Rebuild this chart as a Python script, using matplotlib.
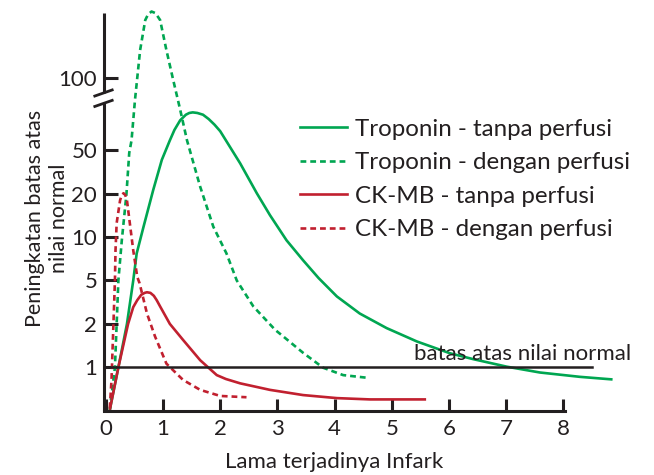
import numpy as np
import matplotlib
matplotlib.use("Agg")
import matplotlib.pyplot as plt
from matplotlib.lines import Line2D

plt.rcParams['font.family'] = ['Lato', 'DejaVu Sans']

# ---------------- data (hours x-axis, y = multiple of upper normal limit) -----
trop_no_x = [0.07, 0.22, 0.37, 0.48, 0.54, 0.66, 0.83, 0.98, 1.12, 1.20, 1.30, 1.40,
             1.46, 1.52, 1.60, 1.70, 1.80, 1.90, 2.00, 2.10, 2.35, 2.64, 2.87, 3.16,
             3.45, 3.72, 4.04, 4.44, 4.91, 5.44, 6.02, 6.42, 7.01, 7.59, 8.29, 8.86]
trop_no_y = [0.02, 1.0, 2.0, 5.0, 7.7, 11.8, 21.7, 40.9, 55, 60.8, 66.7, 70.4,
             71.6, 72.0, 71.6, 70.4, 67.5, 64.0, 60.1, 55, 37.9, 20.2, 14.2, 9.5,
             6.9, 5.2, 3.57, 2.49, 1.87, 1.51, 1.25, 1.14, 1.01, 0.88, 0.78, 0.72]

trop_rep_x = [0.07, 0.16, 0.19, 0.22, 0.28, 0.36, 0.41, 0.45, 0.51, 0.60, 0.69, 0.74,
              0.80, 0.87, 0.95, 1.06, 1.18, 1.30, 1.42, 1.65, 1.88, 2.11, 2.29, 2.58,
              2.96, 3.10, 3.45, 3.80, 4.15, 4.56]
trop_rep_y = [0.02, 1.0, 2.0, 5.0, 9.5, 19.6, 47.3, 55, 81, 131, 175, 185,
              190, 187, 175, 131, 98, 74, 55, 23.2, 11.8, 7.7, 5.0, 2.89,
              1.82, 1.64, 1.26, 0.99, 0.82, 0.76]

ck_no_x = [0.07, 0.22, 0.39, 0.48, 0.55, 0.62, 0.68, 0.72, 0.78, 0.84, 0.89, 0.95,
           1.12, 1.35, 1.65, 1.94, 2.10, 2.35, 2.87, 3.45, 4.04, 4.62, 5.60]
ck_no_y = [0.02, 1.0, 2.0, 2.85, 3.3, 3.7, 3.85, 3.9, 3.85, 3.62, 3.3, 2.89,
           2.0, 1.55, 1.12, 0.82, 0.73, 0.63, 0.48, 0.36, 0.29, 0.26, 0.26]

ck_rep_x = [0.07, 0.10, 0.12, 0.14, 0.16, 0.17, 0.19, 0.25, 0.28, 0.31, 0.34, 0.37,
            0.42, 0.48, 0.55, 0.59, 0.72, 0.86, 1.06, 1.35, 1.65, 2.00, 2.46]
ck_rep_y = [0.06, 0.71, 1.39, 2.49, 5.0, 8.1, 12.5, 18.0, 19.6, 20.2, 19.6, 18.0,
            12.5, 8.1, 5.3, 4.73, 2.49, 1.64, 1.06, 0.71, 0.48, 0.34, 0.31]

labels = ["Troponin - tanpa perfusi", "Troponin - dengan perfusi",
          "CK-MB - tanpa perfusi", "CK-MB - dengan perfusi"]

x_ticks = [0, 1, 2, 3, 4, 5, 6, 7, 8]
y_ticks = [1, 2, 5, 10, 20, 50, 100]
normal_limit = 1.0
normal_text = "batas atas nilai normal"
xlabel = "Lama terjadinya Infark"
ylabel = "Peningkatan batas atas\nnilai normal"

# ---------------- styling ----------------------------------------------------
GREEN = '#00a651'
RED = '#c1202f'
DARK = '#231f20'
LW = 1.9
DASH = (2.2, 1.5)
FS = 16

# custom y scale: equal spacing between tick values (broken axis above 50)
tick_pos = np.array([1, 2, 3, 4, 5, 6, 7.66])
log_ticks = np.log10(np.array(y_ticks, float))
slope_hi = (7.66 - 6) / (2 - np.log10(50))


def fwd(v):
    v = np.asarray(v, float)
    lv = np.log10(np.clip(v, 1e-9, None))
    p = np.interp(lv, log_ticks, tick_pos)
    p = np.where(lv > 2, 7.66 + (lv - 2) * slope_hi, p)
    return np.where(v < 1, v, p)


def inv(p):
    p = np.asarray(p, float)
    lv = np.interp(p, tick_pos, log_ticks)
    lv = np.where(p > 7.66, 2 + (p - 7.66) / slope_hi, lv)
    return np.where(p < 1, p, 10 ** lv)


fig = plt.figure(figsize=(6.54, 4.75), dpi=100)
ax = fig.add_axes([103.5 / 654, 64.3 / 475, 461.6 / 654, 398 / 475])
ax.set_yscale('function', functions=(fwd, inv))
TOP_POS = 9.17
ax.set_xlim(-0.04, 8.03)
ax.set_ylim(0, float(inv(TOP_POS)))

ax.plot(trop_no_x, trop_no_y, color=GREEN, lw=LW, clip_on=False,
        solid_capstyle='butt', solid_joinstyle='round', label=labels[0])
ax.plot(trop_rep_x, trop_rep_y, color=GREEN, lw=LW, clip_on=False,
        ls=(0, DASH), label=labels[1])
ax.plot(ck_no_x, ck_no_y, color=RED, lw=LW, clip_on=False,
        solid_capstyle='butt', solid_joinstyle='round', label=labels[2])
ax.plot(ck_rep_x, ck_rep_y, color=RED, lw=LW, clip_on=False,
        ls=(0, DASH), label=labels[3])

# upper normal limit line
ax.plot([0, 8.5], [normal_limit, normal_limit], color=DARK, lw=1.8, clip_on=False)
ax.text(9.19, 1.125, normal_text, ha='right', va='baseline', fontsize=FS, color=DARK)

# spines
for s in ['top', 'right', 'left']:
    ax.spines[s].set_visible(False)
ax.spines['bottom'].set_linewidth(2.2)
ax.spines['bottom'].set_color(DARK)

# left spine with break
lo = 7.08 / TOP_POS
hi = 7.32 / TOP_POS
ax.plot([0, 0], [0, lo], transform=ax.transAxes, color=DARK, lw=2.2,
        clip_on=False, solid_capstyle='butt')
ax.plot([0, 0], [hi, 1], transform=ax.transAxes, color=DARK, lw=2.2,
        clip_on=False, solid_capstyle='butt')
dx = 10 / 461.6
dy = 3.5 / 398
for yc in (lo, hi):
    ax.plot([-dx, dx], [yc - dy, yc + dy], transform=ax.transAxes, color=DARK,
            lw=2.0, clip_on=False, solid_capstyle='butt')

ax.set_xticks(x_ticks)
ax.set_xticklabels([str(t) for t in x_ticks])
ax.set_yticks(y_ticks)
ax.set_yticklabels([str(t) for t in y_ticks])
ax.yaxis.set_minor_locator(matplotlib.ticker.NullLocator())
ax.tick_params(axis='x', direction='in', length=8.6, width=2.2, color=DARK,
               labelsize=FS, labelcolor=DARK, pad=6)
ax.tick_params(axis='y', direction='in', length=10, width=2.2, color=DARK,
               labelsize=FS, labelcolor=DARK, pad=4.5)

ax.set_xlabel(xlabel, fontsize=FS, color=DARK, labelpad=9)
ax.set_ylabel(ylabel, fontsize=15.5, color=DARK, linespacing=1.25)
ax.yaxis.set_label_coords((69 - 103.5) / 461.6, (410.7 - 218) / 398)

handles = [
    Line2D([], [], color=GREEN, lw=LW),
    Line2D([], [], color=GREEN, lw=LW, ls=(0, DASH)),
    Line2D([], [], color=RED, lw=LW),
    Line2D([], [], color=RED, lw=LW, ls=(0, DASH)),
]
fig.legend(handles, labels, loc='upper left',
           bbox_to_anchor=(300 / 654, 1 - 118.5 / 475),
           frameon=False, fontsize=17.4, handlelength=1.93, handletextpad=0.33,
           labelspacing=0.52, borderpad=0, borderaxespad=0, labelcolor=DARK)

fig.savefig('out.png', dpi=100)
